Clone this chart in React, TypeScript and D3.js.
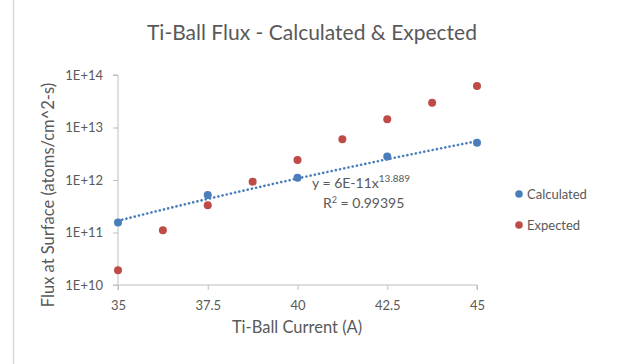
import React, { useEffect, useRef } from 'react';
import { select, scaleLinear, scaleLog, axisBottom, axisLeft, line, range } from 'd3';

const currentCalc = [35, 37.5, 40, 42.5, 45];
const fluxCalc = [1.55e11, 5.2e11, 1.1e12, 2.8e12, 5.1e12];

const currentExp = [35, 36.25, 37.5, 38.75, 40, 41.25, 42.5, 43.75, 45];
const fluxExp = [1.9e10, 1.1e11, 3.3e11, 9.3e11, 2.4e12, 6.0e12, 1.44e13, 2.96e13, 6.2e13];

const xTicks = [35, 37.5, 40, 42.5, 45];
const yTicks = [1e10, 1e11, 1e12, 1e13, 1e14];
const yTickLabels = ['1E+10', '1E+11', '1E+12', '1E+13', '1E+14'];

// power trendline shown on the chart: y = 6E-11 x^13.889
const trendCoef = 6e-11;
const trendExp = 13.889;

const FONT = 'Lato, "Open Sans", sans-serif';
const TEXT = '#595959';
const AXIS = '#bfbfbf';
const BLUE = '#4a7ebb';
const RED = '#be4b48';

const width = 625,
    height = 364;
const margin = { top: 75, right: 148, bottom: 79, left: 118 };

const App = () => {
    const svgRef = useRef(null);

    useEffect(() => {
        const svg = select(svgRef.current);
        svg.selectAll('*').remove();

        svg.append('rect').attr('width', width).attr('height', height).attr('fill', '#fff');
        svg.append('line')
            .attr('x1', 13.5).attr('x2', 13.5)
            .attr('y1', 0).attr('y2', height)
            .attr('stroke', '#d9d9d9').attr('stroke-width', 1.5);

        const x = scaleLinear()
            .domain([35, 45])
            .range([margin.left, width - margin.right]);

        const y = scaleLog()
            .domain([1e10, 1e14])
            .range([height - margin.bottom, margin.top]);

        // axes
        const xAxis = axisBottom(x).tickValues(xTicks).tickFormat(d => String(d)).tickSize(5).tickPadding(11);
        const yAxis = axisLeft(y).tickValues(yTicks).tickFormat((d, i) => yTickLabels[i]).tickSize(5).tickPadding(10);

        const gx = svg.append('g')
            .attr('transform', `translate(0,${height - margin.bottom})`)
            .call(xAxis);
        const gy = svg.append('g')
            .attr('transform', `translate(${margin.left},0)`)
            .call(yAxis);

        [gx, gy].forEach(g => {
            g.select('.domain').attr('stroke', AXIS);
            g.selectAll('.tick line').attr('stroke', AXIS);
            g.selectAll('.tick text')
                .attr('fill', TEXT)
                .style('font-family', FONT)
                .style('font-size', '13px');
        });
        gy.select('.domain').attr('d', `M-5,${y(1e14)}H0V${y(1e10)}H-5`);
        gx.select('.domain').attr('d', `M${x(35)},5V0H${x(45)}V5`);

        // trendline
        const trendPts = range(0, 101).map(i => 35 + i * 0.1);
        const drawTrend = line()
            .x(d => x(d))
            .y(d => y(trendCoef * Math.pow(d, trendExp)));

        svg.append('path')
            .datum(trendPts)
            .attr('d', drawTrend)
            .attr('fill', 'none')
            .attr('stroke', BLUE)
            .attr('stroke-width', 2.6)
            .attr('stroke-linecap', 'round')
            .attr('stroke-dasharray', '0.1 4.2');

        // points
        svg.append('g')
            .selectAll('circle')
            .data(currentCalc)
            .enter()
            .append('circle')
            .attr('cx', d => x(d))
            .attr('cy', (d, i) => y(fluxCalc[i]))
            .attr('r', 4)
            .attr('fill', BLUE);

        svg.append('g')
            .selectAll('circle')
            .data(currentExp)
            .enter()
            .append('circle')
            .attr('cx', d => x(d))
            .attr('cy', (d, i) => y(fluxExp[i]))
            .attr('r', 4)
            .attr('fill', RED);

        const txt = (tx, ty, s, size, anchor = 'start') =>
            svg.append('text')
                .attr('x', tx)
                .attr('y', ty)
                .attr('fill', TEXT)
                .attr('text-anchor', anchor)
                .style('font-family', FONT)
                .style('font-size', `${size}px`)
                .text(s);

        // title and axis titles
        txt(312, 40, 'Ti-Ball Flux - Calculated & Expected', 21, 'middle');
        txt(297, 333, 'Ti-Ball Current (A)', 16.5, 'middle');
        txt(0, 0, 'Flux at Surface (atoms/cm^2-s)', 16.5, 'middle')
            .attr('transform', 'translate(54,195) rotate(-90)');

        // trendline label
        const eq = txt(312, 188, 'y = 6E-11x', 14);
        eq.append('tspan')
            .attr('dy', -6)
            .style('font-size', '10px')
            .text('13.889');
        const r2 = txt(323, 208, 'R', 14);
        r2.append('tspan').attr('dy', -5).style('font-size', '9px').text('2');
        r2.append('tspan').attr('dy', 5).text(' = 0.99395');

        // legend
        const legend = [
            { label: 'Calculated', color: BLUE, y: 194 },
            { label: 'Expected', color: RED, y: 225 },
        ];
        legend.forEach(l => {
            svg.append('circle').attr('cx', 519).attr('cy', l.y).attr('r', 3.8).attr('fill', l.color);
            txt(527, l.y + 4.5, l.label, 13);
        });
    }, []);

    return (
        <svg
            ref={svgRef}
            width={width}
            height={height}
            viewBox={`0 0 ${width} ${height}`}
            style={{ position: 'absolute', left: 0, top: 0 }}
        ></svg>
    );
};

export default App;
